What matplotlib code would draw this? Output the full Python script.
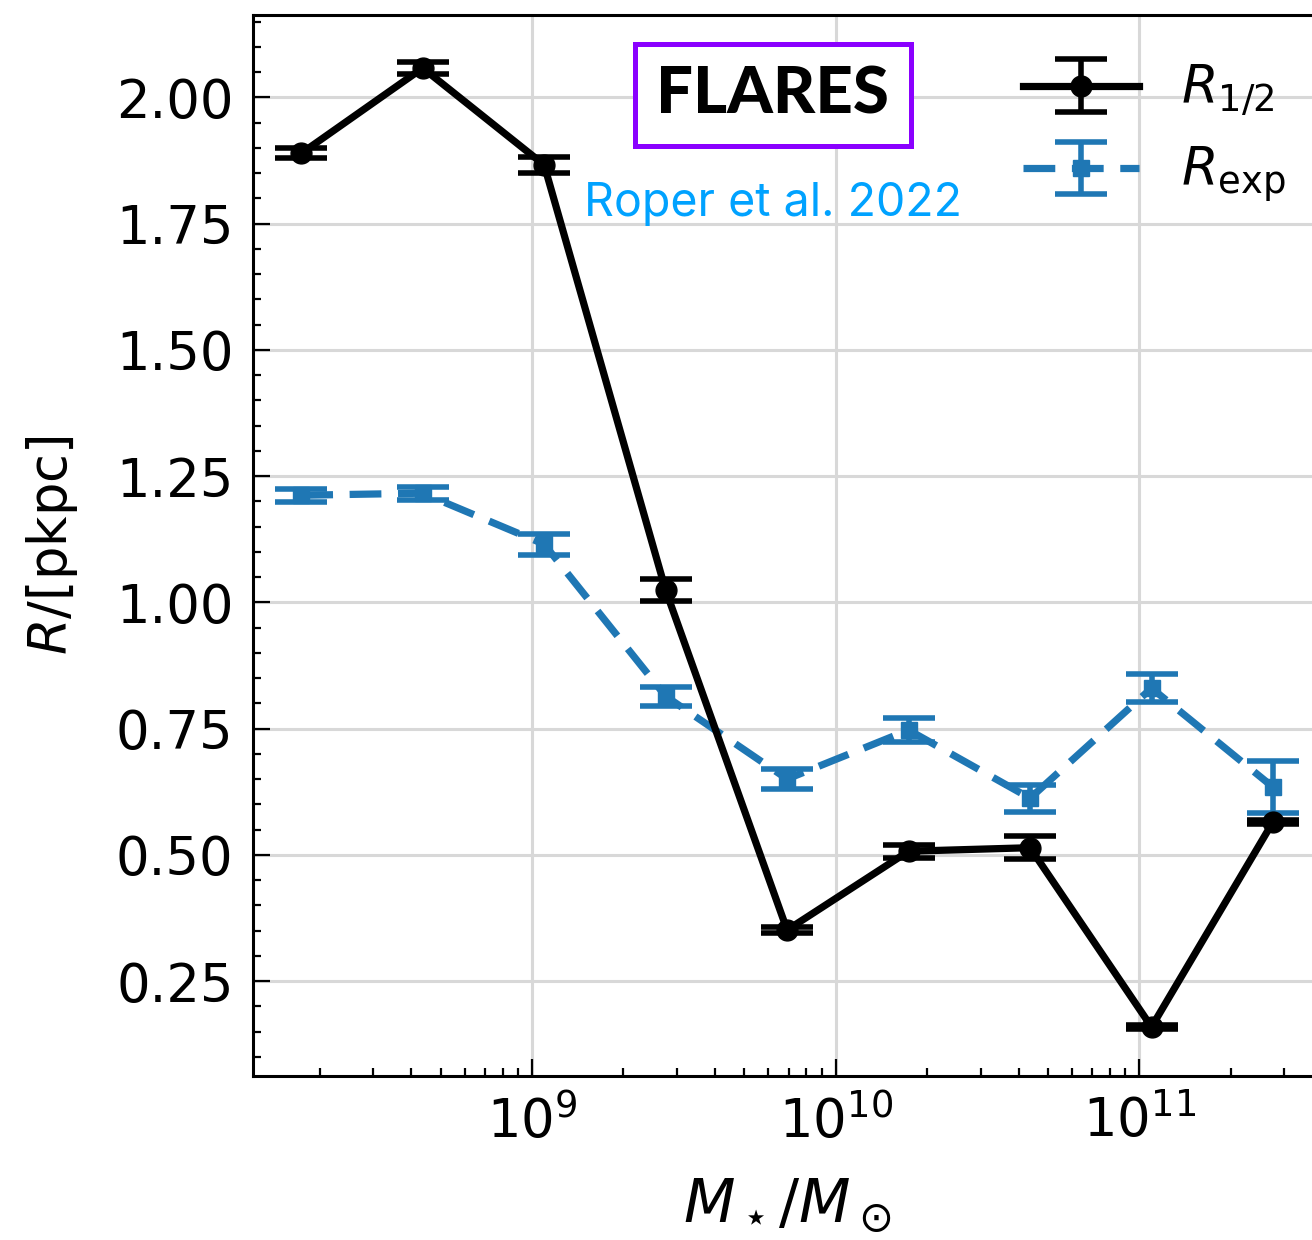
import matplotlib
matplotlib.use('Agg')
import matplotlib.pyplot as plt
import numpy as np
from matplotlib.ticker import FormatStrFormatter, MultipleLocator

# stellar mass bin centres (log10 Msun)
log_mass = [8.24, 8.64, 9.04, 9.44, 9.84, 10.24, 10.64, 11.04, 11.44]

# half-light radius and its error
r_half = [1.889, 2.058, 1.866, 1.024, 0.351, 0.507, 0.514, 0.159, 0.565]
r_half_err = [0.010, 0.011, 0.015, 0.022, 0.005, 0.013, 0.023, 0.004, 0.004]

# exponential scale radius and its error
r_exp = [1.212, 1.216, 1.115, 0.814, 0.650, 0.747, 0.612, 0.830, 0.634]
r_exp_err = [0.013, 0.013, 0.021, 0.019, 0.020, 0.024, 0.027, 0.027, 0.051]

mass = 10 ** np.array(log_mass)

fig = plt.figure(figsize=(13.12, 12.4), dpi=100)
ax = fig.add_axes([0.1928, 0.1323, 0.8145, 0.8556])

ax.errorbar(mass, r_half, yerr=r_half_err, color='black', lw=5.2,
            marker='o', ms=15, capsize=19, capthick=4, elinewidth=4,
            label=r'$R_{1/2}$', zorder=4)
ax.errorbar(mass, r_exp, yerr=r_exp_err, color='#1f77b4', lw=5.2,
            ls=(0, (4.4, 2.3)), marker='s', ms=11, capsize=19, capthick=4,
            elinewidth=4, label=r'$R_{\rm exp}$', zorder=3)

ax.set_xscale('log')
ax.set_xlim(10 ** 8.081, 10 ** 11.6)
ax.set_ylim(0.062, 2.163)
ax.yaxis.set_major_locator(MultipleLocator(0.25))
ax.yaxis.set_minor_locator(MultipleLocator(0.05))
ax.yaxis.set_major_formatter(FormatStrFormatter('%.2f'))

ax.grid(True, which='major', color='#d8d8d8', lw=2.2, zorder=0)
ax.tick_params(which='both', direction='in', labelsize=38, width=1.6)
ax.tick_params(which='major', length=12, pad=14)
ax.tick_params(which='minor', length=6)
for s in ax.spines.values():
    s.set_linewidth(2.2)

ax.set_xlabel(r'$M_\star/M_\odot$', fontsize=43, labelpad=20)
ax.set_ylabel(r'$R/[\mathrm{pkpc}]$', fontsize=38, labelpad=26)

ax.legend(loc='upper right', bbox_to_anchor=(1.011, 1.0), frameon=False,
          fontsize=38, handlelength=2.2, labelspacing=0.5, handletextpad=0.8)

# title box and citation
ax.text(0.4865, 0.925, 'FLARES', transform=ax.transAxes, ha='center',
        va='center', fontsize=47, fontweight='black', family=['Lato', 'DejaVu Sans'],
        bbox=dict(boxstyle='square,pad=0.33', fc='white', ec='#8a00ff', lw=3.6))
ax.text(0.4865, 0.822, 'Roper et al. 2022', transform=ax.transAxes,
        ha='center', va='center', fontsize=33.5, color='#00a2ff',
        family=['Inter', 'DejaVu Sans'])

fig.savefig('out.png', dpi=100)
